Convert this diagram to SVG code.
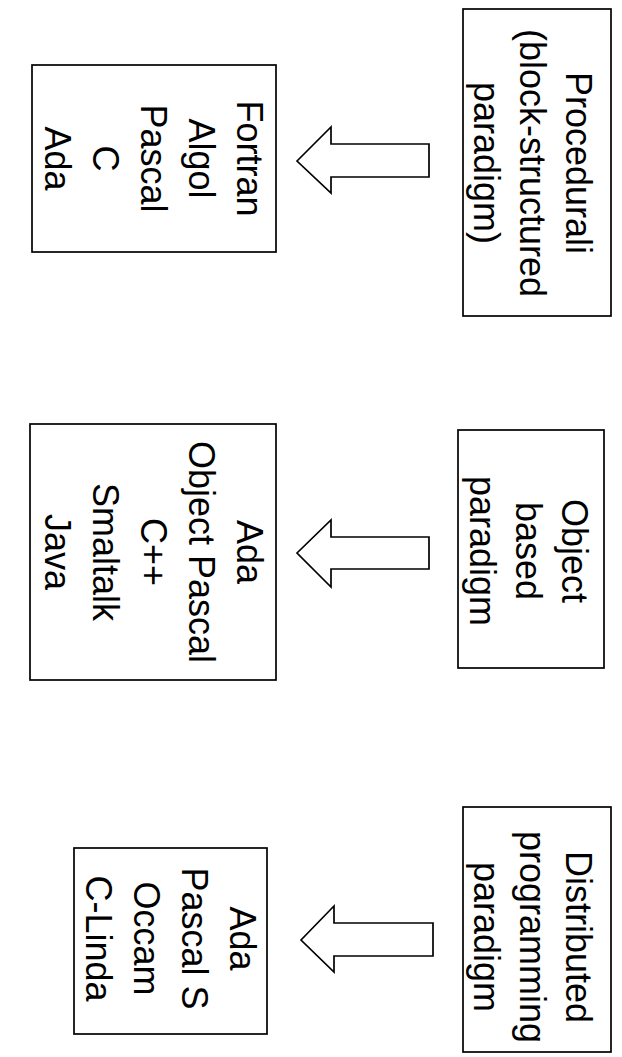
<svg xmlns="http://www.w3.org/2000/svg" width="622" height="1057" viewBox="0 0 622 1057">
<style>
.box{fill:#fff;stroke:#000;stroke-width:1.7}
.arr{fill:#fff;stroke:#000;stroke-width:1.7;stroke-linejoin:miter}
.t{font-family:"Liberation Sans",Arial,sans-serif;font-size:36px;fill:#000;text-anchor:middle}
</style>
<rect width="622" height="1057" fill="#fff"/>
<g id="connectors">
<polygon class="arr" points="297,161 331,127 331,144 429,144 429,177 331,177 331,193"/>
<polygon class="arr" points="297,553 331,520 331,537 429,537 429,569 331,569 331,587"/>
<polygon class="arr" points="301,940 334,906 334,923 433,923 433,956 334,956 334,972"/>
</g>
<g id="procedural">
<rect class="box" x="463" y="9" width="148" height="307"/>
<text class="t" transform="translate(566,163) rotate(90)"><tspan x="0" y="0">Procedurali</tspan><tspan x="0" dy="46">(block-structured</tspan><tspan x="0" dy="46">paradigm)</tspan></text>
</g>
<g id="objectbased">
<rect class="box" x="458" y="430" width="146" height="238"/>
<text class="t" transform="translate(562,551) rotate(90)"><tspan x="0" y="0">Object</tspan><tspan x="0" dy="46">based</tspan><tspan x="0" dy="46">paradigm</tspan></text>
</g>
<g id="distributed">
<rect class="box" x="463" y="807" width="148" height="245"/>
<text class="t" transform="translate(566,937) rotate(90)"><tspan x="0" y="0">Distributed</tspan><tspan x="0" dy="46">programming</tspan><tspan x="0" dy="46">paradigm</tspan></text>
</g>
<g id="proc-langs">
<rect class="box" x="32" y="65" width="244" height="187"/>
<text class="t" transform="translate(237,158.5) rotate(90)"><tspan x="0" y="0">Fortran</tspan><tspan x="0" dy="48">Algol</tspan><tspan x="0" dy="48">Pascal</tspan><tspan x="0" dy="48">C</tspan><tspan x="0" dy="48">Ada</tspan></text>
</g>
<g id="obj-langs">
<rect class="box" x="30" y="424" width="246" height="256"/>
<text class="t" transform="translate(237,552) rotate(90)"><tspan x="0" y="0">Ada</tspan><tspan x="0" dy="48">Object Pascal</tspan><tspan x="0" dy="48">C++</tspan><tspan x="0" dy="48">Smaltalk</tspan><tspan x="0" dy="48">Java</tspan></text>
</g>
<g id="dist-langs">
<rect class="box" x="74" y="848" width="193" height="186"/>
<text class="t" transform="translate(230,938.5) rotate(90)"><tspan x="0" y="0">Ada</tspan><tspan x="0" dy="48">Pascal S</tspan><tspan x="0" dy="48">Occam</tspan><tspan x="0" dy="48">C-Linda</tspan></text>
</g>
</svg>
